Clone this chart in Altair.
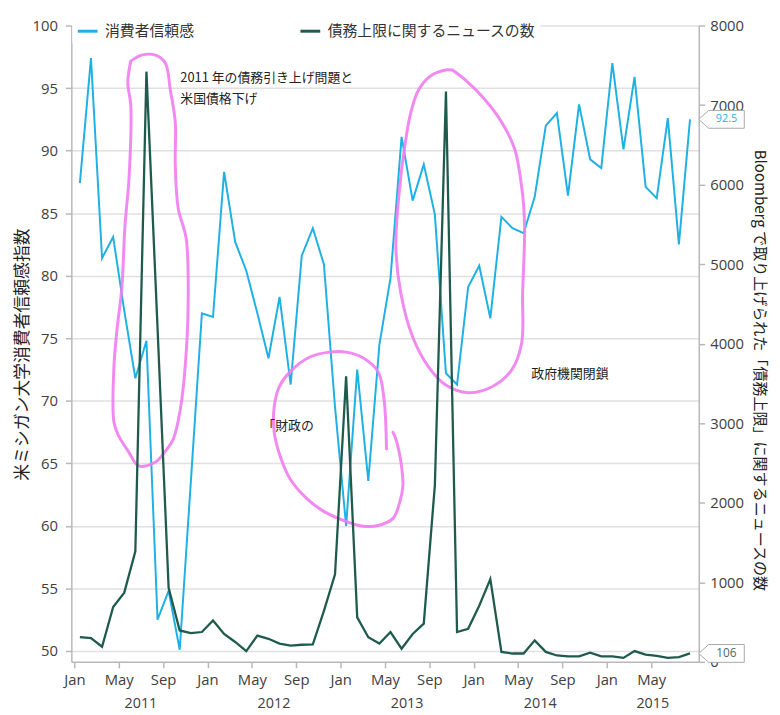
import json
import altair as alt
import pandas as pd

# ---------------- data ----------------
series_names = ["消費者信頼感", "債務上限に関するニュースの数"]
# one value per month, Jan 2011 ... Aug 2015 (index 0 = Jan 2011)
consumer = [87.4, 97.4, 81.4, 83.1, 77.2, 71.8, 74.8, 52.5, 54.8, 50.1,
            63.5, 77.0, 76.7, 88.3, 82.7, 80.4, 77.0, 73.4, 78.3, 71.3,
            81.6, 83.8, 80.9, 69.5, 60.0, 72.5, 63.6, 74.5, 79.8, 91.1,
            86.0, 88.9, 84.9, 72.2, 71.3, 79.1, 80.8, 76.6, 84.7, 83.8,
            83.4, 86.3, 92.0, 93.0, 86.4, 93.7, 89.3, 88.6, 97.0, 90.1,
            95.9, 87.1, 86.2, 92.6, 82.5, 92.5]
debt_news = [310, 300, 190, 690, 870, 1390, 7420, 4200, 930, 395,
             360, 375, 520, 350, 250, 135, 330, 290, 230, 205,
             215, 220, 640, 1100, 3590, 560, 310, 230, 375, 165,
             350, 480, 2220, 7170, 375, 415, 705, 1040, 125, 105,
             105, 270, 125, 80, 70, 70, 115, 70, 70, 50,
             135, 90, 75, 50, 60, 106]
months = list(range(len(consumer)))
tick_labels = ["Jan", "May", "Sep"]
years = ["2011", "2012", "2013", "2014", "2015"]
left_ticks = [50, 55, 60, 65, 70, 75, 80, 85, 90, 95, 100]
right_ticks = [0, 1000, 2000, 3000, 4000, 5000, 6000, 7000, 8000]

left_title = "米ミシガン大学消費者信頼感指数"
right_title = "Bloomberg で取り上げられた「債務上限」に関するニュースの数"

# annotation texts: (text, month position, left-axis value)
notes = [
    ("2011 年の債務引き上げ問題と", 9.05, 95.8),
    ("米国債格下げ", 9.05, 94.15),
    ("「財政の", 16.45, 68.0),
    ("政府機関閉鎖", 40.7, 72.15),
]

# hand-drawn pink loops, in (month, left-axis value) units
loop_2011 = [(4.59, 97.15), (5.57, 97.63), (6.82, 97.63), (7.71, 96.99), (8.15, 94.86),
             (8.60, 92.25), (8.60, 88.84), (8.87, 85.36), (9.58, 82.99), (9.76, 77.77),
             (9.49, 72.70), (9.05, 69.30), (8.42, 66.93), (7.71, 65.98), (6.82, 65.11),
             (5.30, 64.79), (4.41, 65.90), (3.51, 67.17), (3.07, 68.28), (3.07, 72.71),
             (3.34, 75.63), (3.78, 79.03), (4.05, 83.78), (4.23, 85.68), (4.41, 87.50),
             (4.59, 93.59), (4.32, 95.41), (4.59, 97.15)]
loop_cliff = [(27.64, 66.14), (27.42, 70.09), (26.89, 72.31), (25.55, 73.42), (24.03, 73.89),
              (22.51, 73.89), (20.73, 73.50), (18.94, 72.31), (17.97, 71.12), (17.52, 69.54),
              (17.52, 67.48), (18.05, 65.59), (18.94, 63.77), (20.46, 62.18), (21.98, 61.16),
              (23.76, 60.44), (25.55, 59.97), (26.98, 60.05), (28.23, 60.60), (28.85, 61.95),
              (29.12, 63.21), (28.94, 65.11), (28.49, 66.93), (28.23, 67.48)]
loop_2013 = [(33.58, 96.44), (34.74, 95.65), (36.52, 94.07), (38.04, 92.25), (39.20, 90.11),
             (39.91, 86.47), (40.09, 83.78), (39.91, 78.56), (39.82, 74.60), (38.93, 72.47),
             (37.15, 71.12), (35.00, 70.65), (32.95, 71.28), (31.43, 72.71), (30.01, 75.08),
             (28.94, 78.56), (28.49, 82.20), (28.76, 86.47), (29.38, 90.90), (29.83, 93.04),
             (30.54, 94.86), (31.61, 95.97), (33.10, 96.46), (33.58, 96.44)]

# ---------------- tables ----------------
cons_df = pd.DataFrame({"m": months, "v": consumer, "series": series_names[0]})
debt_df = pd.DataFrame({"m": months, "n": debt_news, "series": series_names[1]})
pink_rows = []
for name, pts in [("a", loop_2011), ("b", loop_cliff), ("c", loop_2013)]:
    for i, (m, v) in enumerate(pts):
        pink_rows.append({"shape": name, "i": i, "m": m, "v": v})
pink_df = pd.DataFrame(pink_rows)
notes_df = pd.DataFrame(notes, columns=["text", "m", "v"])

X_DOMAIN = [-0.77, 55.79]
year_pos = [12 * k + 5.5 for k in range(4)] + [(47.5 + X_DOMAIN[1]) / 2]
years_df = pd.DataFrame({"year": years, "m": year_pos})
last_cons = pd.DataFrame({"v": [consumer[-1]]})
last_debt = pd.DataFrame({"n": [debt_news[-1]]})

# ---------------- styling ----------------
W, H = 634, 643
CYAN = "#1fb1e3"
DARK = "#1f5b4d"
PINK = "#f17cf0"
AX = "#b8b8b8"
NUM_FONT = "Open Sans"
JP_FONT = "Noto Sans CJK JP"

xscale = alt.Scale(domain=X_DOMAIN, nice=False, zero=False)
x_ticks = [-0.5 + 4 * k for k in range(14)]
label_expr = json.dumps(tick_labels) + "[round((datum.value + 0.5) / 4) % 3]"
xaxis = alt.Axis(values=x_ticks, labelExpr=label_expr, title=None, grid=False,
                 domainColor=AX, domainWidth=1.5, tickColor=AX, tickWidth=1.5,
                 tickSize=6, labelFontSize=15, labelColor="#404040",
                 labelPadding=5, labelFont=NUM_FONT)
X = alt.X("m:Q", scale=xscale, axis=xaxis)

yl = alt.Y("v:Q", scale=alt.Scale(domain=[49.13, 100], nice=False, zero=False),
           axis=alt.Axis(values=left_ticks, title=left_title, titleFontSize=17,
                         titleFontWeight="normal", titleColor="#222", titleFont=JP_FONT,
                         titlePadding=1, titleY=332, grid=True, gridColor="#e0e0e0",
                         gridWidth=1.5, domainColor=AX, domainWidth=1.5, tickColor=AX,
                         tickWidth=1.5, tickSize=6, labelFontSize=15, labelColor="#404040",
                         labelPadding=8, labelFont=NUM_FONT))
yr = alt.Y("n:Q", scale=alt.Scale(domain=[0, 8000], nice=False),
           axis=alt.Axis(orient="right", values=right_ticks, format="d", title=right_title,
                         titleFontSize=15.2, titleFontWeight="normal", titleColor="#222",
                         titleFont=JP_FONT, titlePadding=8, titleY=348, grid=False,
                         domainColor=AX, domainWidth=1.5, tickColor=AX, tickWidth=1.5,
                         tickSize=6, labelFontSize=15, labelColor="#404040",
                         labelPadding=5, labelFont=NUM_FONT))

color = alt.Color("series:N",
                  scale=alt.Scale(domain=series_names, range=[CYAN, DARK]),
                  legend=alt.Legend(title=None, orient="none", legendX=1, legendY=-10,
                                    direction="horizontal", symbolType="stroke",
                                    symbolSize=400, symbolStrokeWidth=3,
                                    labelFontSize=15, labelFont=JP_FONT, labelLimit=0,
                                    labelColor="#333", labelOffset=6, columnPadding=100,
                                    fillColor="white", padding=4))

tag_path = "M -1 0 L -0.565 -0.391 L 1 -0.391 L 1 0.391 L -0.565 0.391 Z"

cons_line = alt.Chart(cons_df).mark_line(strokeWidth=2).encode(x=X, y=yl, color=color)
pink = alt.Chart(pink_df).mark_line(color=PINK, strokeWidth=3, opacity=0.9,
                                    interpolate="catmull-rom", strokeCap="round",
                                    strokeJoin="round").encode(
    x=X, y=yl, detail="shape:N", order="i:Q")
note_text = alt.Chart(notes_df).mark_text(align="left", baseline="middle", fontSize=13,
                                          font=JP_FONT, color="#222").encode(
    x=X, y=yl, text="text:N")
year_text = alt.Chart(years_df).mark_text(align="center", baseline="middle", fontSize=14.5,
                                          font=NUM_FONT, color="#404040").encode(
    x=X, y=alt.value(H + 43), text="year:N")
tag_cons = alt.Chart(last_cons).mark_point(shape=tag_path, filled=True, fill="white",
                                           stroke="#a8a8a8", strokeWidth=1, opacity=1,
                                           size=2116).encode(x=alt.value(W + 23), y=yl)
tag_cons_txt = alt.Chart(last_cons).mark_text(fontSize=11, font=NUM_FONT, color=CYAN,
                                              align="center", baseline="middle").encode(
    x=alt.value(W + 28), y=yl, text=alt.Text("v:Q", format=".1f"))

debt_line = alt.Chart(debt_df).mark_line(strokeWidth=2.3).encode(x=X, y=yr, color=color)
tag_debt = alt.Chart(last_debt).mark_point(shape=tag_path, filled=True, fill="white",
                                           stroke="#a8a8a8", strokeWidth=1, opacity=1,
                                           size=2116).encode(x=alt.value(W + 23), y=yr)
tag_debt_txt = alt.Chart(last_debt).mark_text(fontSize=12, font=NUM_FONT, color="#4a6a62",
                                              align="center", baseline="middle").encode(
    x=alt.value(W + 28), y=yr, text=alt.Text("n:Q", format="d"))

left = alt.layer(cons_line, pink, note_text, year_text, tag_cons, tag_cons_txt)
right = alt.layer(debt_line, tag_debt, tag_debt_txt)

chart = alt.layer(left, right).resolve_scale(y="independent").properties(
    width=W, height=H,
    padding={"left": 64, "top": 14, "right": 74, "bottom": 50},
    autosize=alt.AutoSizeParams(type="none"),
).configure_view(stroke=None)

chart.save("out.html", embed_options={"renderer": "svg", "actions": False})
